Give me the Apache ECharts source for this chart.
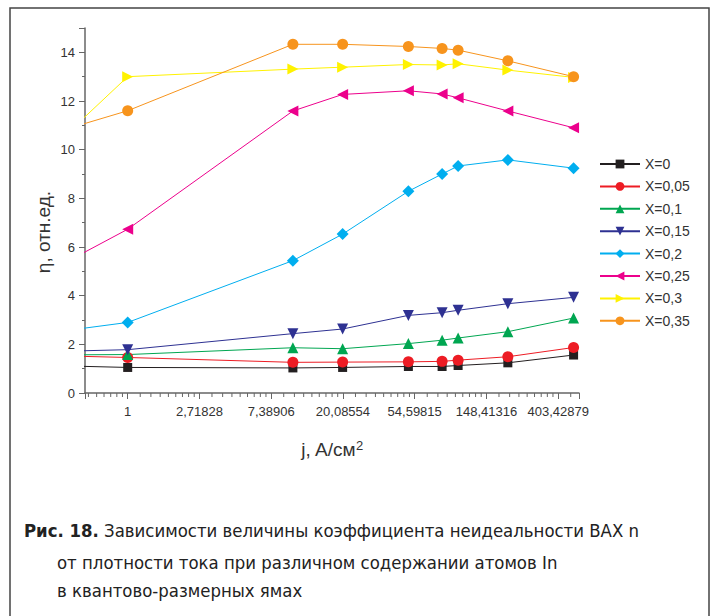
<!DOCTYPE html>
<html lang="ru">
  <meta charset="utf-8" />
  <head>
    <title>Коэффициент неидеальности ВАХ</title>
    <script src="https://cdn.jsdelivr.net/npm/echarts@6/dist/echarts.min.js"></script>
  </head>
  <style>
    * {
      margin: 0;
      padding: 0;
    }

    body {
      width: 714px;
      height: 616px;
      background: #fff;
    }

    #main {
      width: 714px;
      height: 616px;
    }
  </style>
  <body>
    <div id="main"></div>
    <script>
      // плотность тока, А/см2 (первая точка лежит левее видимой области)
      const currentDensity = [0.5, 1, 10, 20, 50, 80, 100, 200, 500];

      const seriesNames = ["X=0", "X=0,05", "X=0,1", "X=0,15", "X=0,2", "X=0,25", "X=0,3", "X=0,35"];

      const etaX0 = [1.10, 1.05, 1.03, 1.05, 1.09, 1.09, 1.13, 1.24, 1.56];
      const etaX005 = [1.51, 1.46, 1.26, 1.27, 1.28, 1.30, 1.35, 1.49, 1.87];
      const etaX01 = [1.57, 1.58, 1.86, 1.82, 2.03, 2.17, 2.26, 2.52, 3.08];
      const etaX015 = [1.73, 1.78, 2.44, 2.63, 3.19, 3.30, 3.40, 3.67, 3.93];
      const etaX02 = [2.63, 2.90, 5.44, 6.53, 8.29, 9.00, 9.33, 9.58, 9.24];
      const etaX025 = [5.64, 6.73, 11.59, 12.27, 12.42, 12.29, 12.13, 11.59, 10.90];
      const etaX03 = [11.08, 13.0, 13.31, 13.39, 13.50, 13.48, 13.53, 13.27, 12.97];
      const etaX035 = [10.99, 11.60, 14.33, 14.33, 14.24, 14.16, 14.09, 13.65, 13.0];

      const allEta = [etaX0, etaX005, etaX01, etaX015, etaX02, etaX025, etaX03, etaX035];

      const colors = ["#231f20", "#ed1c24", "#00a651", "#2e3192", "#00aeef", "#ec008c", "#fff200", "#f7941d"];
      const symbols = ["rect", "circle", "triangle", "triangle", "diamond", "triangle", "triangle", "circle"];
      const symbolRotates = [0, 0, 0, 180, 0, 90, -90, 0];
      const symbolSizes = [9, 11, 11, 11, 12, 11, 11, 11];

      const font = "'Liberation Sans', Arial, sans-serif";
      const captionFont = "'Liberation Sans Narrow', 'DejaVu Sans Condensed', 'Liberation Sans', sans-serif";

      const xMin = Math.exp(-0.595);
      const xMax = Math.exp(6.29);

      // промежуточные засечки: 9 равных долей между соседними e^n
      const minorTicks = [];
      for (let n = -1; n < 7; n++) {
        const a = Math.exp(n);
        const b = Math.exp(n + 1);
        for (let k = 1; k < 9; k++) {
          const v = a + ((b - a) * k) / 9;
          if (v > xMin && v < xMax) {
            minorTicks.push(v);
          }
        }
      }

      const chart = echarts.init(document.getElementById("main"), null, { renderer: "svg" });

      function tickLabel(value) {
        const l = Math.log(value);
        if (Math.abs(l - Math.round(l)) > 1e-6) {
          return "";
        }
        if (Math.round(l) === 0) {
          return "1";
        }
        return value.toFixed(5).replace(".", ",");
      }

      const series = allEta.map((eta, i) => ({
        name: seriesNames[i],
        type: "line",
        data: currentDensity.map((j, k) => [j, eta[k]]),
        symbol: symbols[i],
        symbolSize: symbolSizes[i],
        symbolRotate: symbolRotates[i],
        showAllSymbol: true,
        clip: true,
        lineStyle: { color: colors[i], width: 1 },
        itemStyle: { color: colors[i] },
        emphasis: { disabled: true },
      }));

      const graphics = [
        {
          type: "rect",
          shape: { x: 10, y: 8, width: 699, height: 640 },
          style: { fill: "none", stroke: "#444", lineWidth: 1.5 },
          silent: true,
        },
        {
          type: "text",
          x: 43,
          y: 232,
          rotation: Math.PI / 2,
          style: {
            text: "η, отн.ед.",
            fontFamily: font,
            fontSize: 19,
            fill: "#333",
            align: "center",
            verticalAlign: "middle",
          },
        },
        {
          type: "text",
          x: 24,
          y: 530,
          style: {
            text: "{b|Рис. 18.} Зависимости величины коэффициента неидеальности ВАХ n",
            fontFamily: captionFont,
            fontSize: 18.4,
            fill: "#222",
            verticalAlign: "middle",
            rich: { b: { fontFamily: captionFont, fontSize: 18.4, fontWeight: "bold", fill: "#222" } },
          },
        },
        {
          type: "text",
          x: 57,
          y: 562,
          style: {
            text: "от плотности тока при различном содержании атомов In",
            fontFamily: captionFont,
            fontSize: 18.4,
            fill: "#222",
            verticalAlign: "middle",
          },
        },
        {
          type: "text",
          x: 57,
          y: 590,
          style: {
            text: "в квантово-размерных ямах",
            fontFamily: captionFont,
            fontSize: 18.4,
            fill: "#222",
            verticalAlign: "middle",
          },
        },
      ];

      const option = {
        animation: false,
        grid: { left: 85, top: 28, width: 494, height: 365 },
        legend: {
          orient: "vertical",
          left: 594,
          top: 152,
          itemWidth: 40,
          itemHeight: 11,
          itemGap: 8.4,
          textStyle: { fontFamily: font, fontSize: 14, color: "#333" },
          data: seriesNames,
        },
        xAxis: {
          type: "log",
          logBase: Math.E,
          min: xMin,
          max: xMax,
          axisLine: { lineStyle: { color: "#666", width: 1.5 } },
          axisTick: { length: 6, lineStyle: { color: "#666" } },
          splitLine: { show: false },
          axisLabel: {
            interval: 0,
            margin: 12,
            fontFamily: font,
            fontSize: 13,
            color: "#333",
            formatter: tickLabel,
          },
          name: "j, A/cм{s|2}",
          nameLocation: "middle",
          nameGap: 46,
          nameTextStyle: {
            fontFamily: font,
            fontSize: 19,
            color: "#333",
            rich: { s: { fontFamily: font, fontSize: 13, color: "#333", verticalAlign: "top", padding: [0, 0, 8, 0] } },
          },
        },
        yAxis: {
          type: "value",
          min: 0,
          max: 15,
          interval: 2,
          axisLine: { show: true, lineStyle: { color: "#666", width: 1.5 } },
          axisTick: { show: true, length: 6, lineStyle: { color: "#666" } },
          minorTick: { show: true, splitNumber: 2, length: 3, lineStyle: { color: "#666" } },
          splitLine: { show: false },
          axisLabel: {
            showMaxLabel: false,
            margin: 10,
            fontFamily: font,
            fontSize: 13,
            color: "#333",
          },
        },
        graphic: graphics,
        series: series,
      };

      chart.setOption(option);

      // мелкие засечки логарифмической оси ставим по шкале самой оси
      const axisY = chart.convertToPixel({ yAxisIndex: 0 }, 0);
      const minorLines = minorTicks.map((v) => {
        const px = chart.convertToPixel({ xAxisIndex: 0 }, v);
        return {
          type: "line",
          silent: true,
          shape: { x1: px, y1: axisY, x2: px, y2: axisY + 4 },
          style: { stroke: "#666", lineWidth: 1 },
        };
      });
      chart.setOption({ graphic: graphics.concat(minorLines) });
    </script>
  </body>
</html>
